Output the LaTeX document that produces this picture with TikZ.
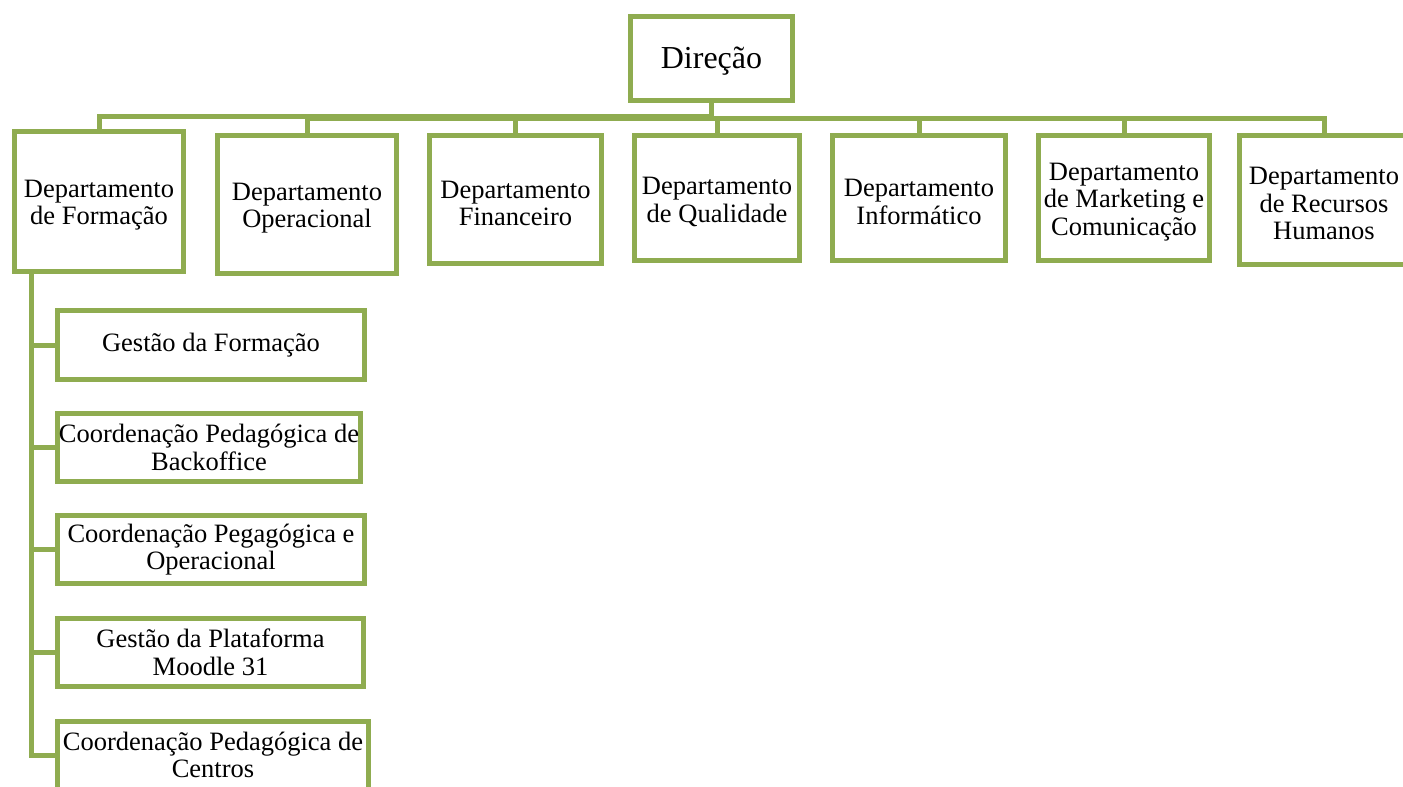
\documentclass[tikz,border=0pt]{standalone}
\usepackage{fontspec}
\setmainfont{Liberation Serif}
\usetikzlibrary{backgrounds,calc}
\definecolor{og}{RGB}{143,172,80}
\newcommand\mystrut{\rule{0pt}{25pt}}
\begin{document}
\begin{tikzpicture}[x=1pt,y=-1pt,
  box/.style={draw=og, line width=5pt, fill=white, inner sep=0pt, align=center,
    font=\fontsize{26.5}{27.5}\selectfont},
  conn/.style={draw=og, line width=5pt}]
\useasboundingbox (0,0) rectangle (1403,787);
\node[box, minimum width=162pt, minimum height=84pt, font=\fontsize{32}{34}\selectfont] (dir) at (711.5,58.5) {\rule{0pt}{27pt}Direção};
\node[box, minimum width=169pt, minimum height=140pt] (d1) at (99,201.5) {\mystrut Departamento\\de Formação};
\node[box, minimum width=179pt, minimum height=138pt] (d2) at (307,204.5) {\mystrut Departamento\\Operacional};
\node[box, minimum width=172pt, minimum height=128pt] (d3) at (515.5,199.5) {\mystrut Departamento\\Financeiro};
\node[box, minimum width=165pt, minimum height=125pt] (d4) at (717,198) {\mystrut Departamento\\de Qualidade};
\node[box, minimum width=173pt, minimum height=125pt] (d5) at (919,198) {\mystrut Departamento\\Informático};
\node[box, minimum width=171pt, minimum height=125pt] (d6) at (1124,198) {\mystrut Departamento\\de Marketing e\\Comunicação};
\node[box, minimum width=169pt, minimum height=129pt] (d7) at (1324,200) {\mystrut Departamento\\de Recursos\\Humanos};
\node[box, minimum width=307pt, minimum height=69pt] (s1) at (211,345) {Gestão da Formação};
\node[box, minimum width=303pt, minimum height=68pt] (s2) at (209,447.5) {Coordenação Pedagógica de\\Backoffice};
\node[box, minimum width=307pt, minimum height=68pt] (s3) at (211,549.5) {Coordenação Pegagógica e\\Operacional};
\node[box, minimum width=306pt, minimum height=68pt] (s4) at (210.5,652.5) {Gestão da Plataforma\\Moodle 31};
\node[box, minimum width=311pt, minimum height=68pt] (s5) at (213,755) {Coordenação Pedagógica de\\Centros};
\coordinate (spine) at (31.5,0);
\begin{scope}[on background layer]
\foreach \d in {d1,d2,d3,d4,d5,d6,d7}{
  \draw[conn] (dir.south) |- ($(dir.south)!0.5!(\d.north)$) -| (\d.north);
}
\foreach \s in {s1,s2,s3,s4,s5}{
  \draw[conn] (spine |- d1.south) |- (\s.west);
}
\end{scope}
\end{tikzpicture}
\end{document}
